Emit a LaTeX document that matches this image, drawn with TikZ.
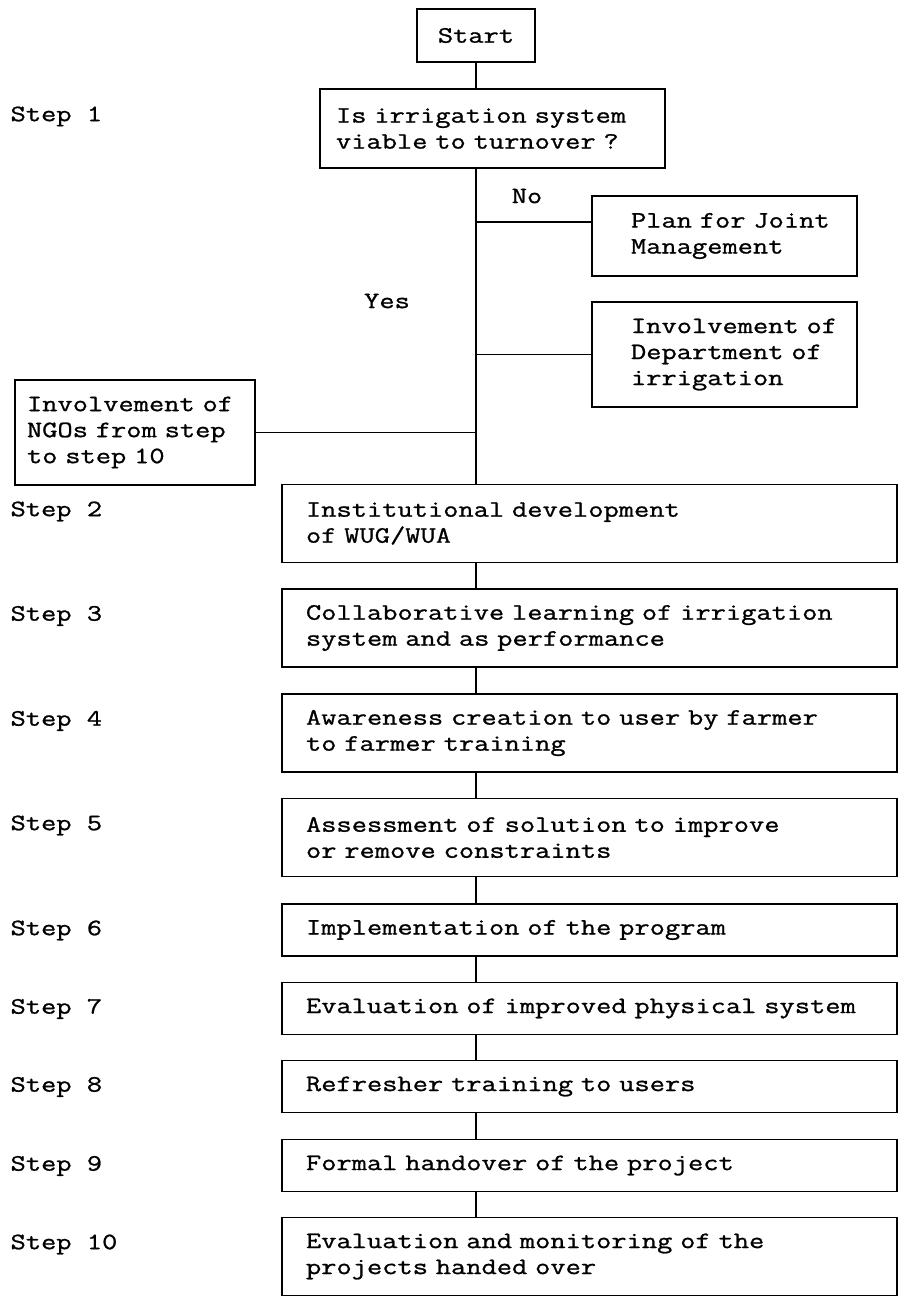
\documentclass[tikz,border=0pt]{standalone}
\usepackage{fontspec}
\newfontfamily\cour{Latin Modern Mono}[FakeStretch=1.26,FakeBold=1]
\newcommand\courfont{\cour\fontsize{23.5}{26}\selectfont}
\begin{document}
\begin{tikzpicture}[x=1pt,y=-1pt,line width=1.2pt,
  every node/.style={font=\courfont},
  box/.style={draw, rectangle, inner ysep=0pt},
  stepbox/.style={box, minimum width=615pt, text width=567pt, inner xsep=24pt, align=left},
  sidebox/.style={box, minimum width=265pt, text width=187pt, inner xsep=39pt, align=left},
  lbl/.style={anchor=mid west, inner sep=0pt},
  plain/.style={inner sep=0pt}]
\useasboundingbox (0,0) rectangle (904,1299);

% top part
\node[box, minimum width=118pt, minimum height=53pt] (start) at (476,35.5) {Start};
\node[box, minimum width=345pt, minimum height=79pt, text width=313pt, inner xsep=16pt, align=left] (q) at (492.5,128.5)
  {\mbox{Is irrigation system}\\\mbox{viable to turnover ?}};
\node[lbl] (s1) at (10,119) {Step 1};
\node[plain] (no) at (527,196) {No};
\node[plain] (yes) at (387,301) {Yes};
\node[sidebox, minimum height=80pt] (plan) at (724.5,236) {\mbox{Plan for Joint}\\\mbox{Management}};
\node[sidebox, minimum height=105pt] (dept) at (724.5,354.5) {\mbox{Involvement of}\\\mbox{Department of}\\\mbox{irrigation}};
\node[box, minimum width=240pt, minimum height=105pt, text width=216pt, inner xsep=12pt, align=left] (ngo) at (135,432.5)
  {\mbox{Involvement of}\\\mbox{NGOs from step}\\\mbox{to step 10}};

% main steps
\node[stepbox, minimum height=78pt] (b2) at (589.5,523.5) {\mbox{Institutional development}\\\mbox{of WUG/WUA}};
\node[stepbox, minimum height=78pt] (b3) at (589.5,628) {\mbox{Collaborative learning of irrigation}\\\mbox{system and as performance}};
\node[stepbox, minimum height=78pt] (b4) at (589.5,733) {\mbox{Awareness creation to user by farmer}\\\mbox{to farmer training}};
\node[stepbox, minimum height=78pt] (b5) at (589.5,837.5) {\mbox{Assessment of solution to improve}\\\mbox{or remove constraints}};
\node[stepbox, minimum height=52pt] (b6) at (589.5,930) {\mbox{Implementation of the program}};
\node[stepbox, minimum height=52pt] (b7) at (589.5,1008.5) {\mbox{Evaluation of improved physical system}};
\node[stepbox, minimum height=52pt] (b8) at (589.5,1086.5) {\mbox{Refresher training to users}};
\node[stepbox, minimum height=52pt] (b9) at (589.5,1165.5) {\mbox{Formal handover of the project}};
\node[stepbox, minimum height=78pt] (b10) at (589.5,1256.5) {\mbox{Evaluation and monitoring of the}\\\mbox{projects handed over}};

% step labels
\node[lbl] (s2) at (10,514) {Step 2};
\node[lbl] (s3) at (10,618.5) {Step 3};
\node[lbl] (s4) at (10,723.5) {Step 4};
\node[lbl] (s5) at (10,828) {Step 5};
\node[lbl] (s6) at (10,933) {Step 6};
\node[lbl] (s7) at (10,1011.5) {Step 7};
\node[lbl] (s8) at (10,1089.5) {Step 8};
\node[lbl] (s9) at (10,1168.5) {Step 9};
\node[lbl] (s10) at (10,1247) {Step 10};

% connectors
\draw (start.south) -- (start.south |- q.north);
\draw (start.south |- q.south) -- (start.south |- b2.north);
\coordinate (jp) at (476,222);
\draw (jp) -- (jp -| plan.west);
\draw (dept.west) -- (dept.west -| start.south);
\draw (ngo.east) -- (ngo.east -| start.south);
\foreach \u/\v in {b2/b3,b3/b4,b4/b5,b5/b6,b6/b7,b7/b8,b8/b9,b9/b10}
  \draw (start.south |- \u.south) -- (start.south |- \v.north);
\end{tikzpicture}
\end{document}
